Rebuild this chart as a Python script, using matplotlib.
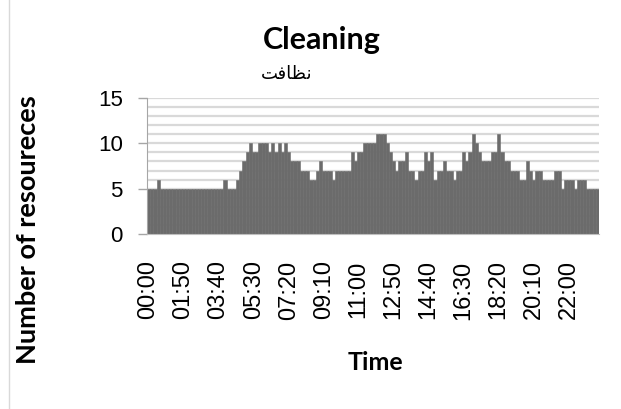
import matplotlib
matplotlib.use("Agg")
import matplotlib.pyplot as plt
from matplotlib.lines import Line2D

# Number of cleaning staff on duty, one value per 10-minute slot starting at 00:00
resources = [
    5, 5, 5, 6, 5, 5, 5, 5, 5, 5, 5, 5, 5, 5, 5, 5, 5, 5, 5, 5,
    5, 5, 5, 5, 6, 5, 5, 5, 6, 7, 8, 9, 10, 9, 9, 10, 10, 10, 9, 10,
    9, 10, 9, 10, 9, 8, 8, 8, 7, 7, 7, 6, 6, 7, 8, 7, 7, 7, 6, 7,
    7, 7, 7, 7, 9, 8, 9, 9, 10, 10, 10, 10, 11, 11, 11, 10, 9, 8, 7, 8,
    8, 9, 7, 7, 6, 7, 7, 9, 8, 9, 6, 7, 7, 8, 7, 7, 6, 7, 7, 9,
    8, 9, 11, 10, 9, 8, 8, 8, 9, 9, 11, 9, 8, 8, 7, 7, 7, 6, 6, 8,
    7, 6, 7, 7, 6, 6, 6, 6, 7, 7, 5, 6, 6, 6, 5, 6, 6, 6, 5, 5,
    5, 5,
]
times = [f"{(10 * i) // 60:02d}:{(10 * i) % 60:02d}" for i in range(len(resources))]
label_step = 11
y_ticks = [0, 5, 10, 15]

title = "Cleaning"
subtitle = "نظافت"
x_title = "Time"
y_title = "Number of resoureces"

# Arabic contextual forms (isolated, final, initial, medial) for the letters used
_FORMS = {
    "ن": ("\uFEE5", "\uFEE6", "\uFEE7", "\uFEE8"),
    "ظ": ("\uFEC5", "\uFEC6", "\uFEC7", "\uFEC8"),
    "ا": ("\uFE8D", "\uFE8E", None, None),
    "ف": ("\uFED1", "\uFED2", "\uFED3", "\uFED4"),
    "ت": ("\uFE95", "\uFE96", "\uFE97", "\uFE98"),
}


def shape_arabic(text):
    """Pick joined letter forms and lay the word out left-to-right."""
    out = []
    for i, ch in enumerate(text):
        forms = _FORMS.get(ch)
        if forms is None:
            out.append(ch)
            continue
        prev = text[i - 1] if i > 0 else None
        nxt = text[i + 1] if i + 1 < len(text) else None
        joins_prev = prev in _FORMS and _FORMS[prev][2] is not None
        joins_next = nxt in _FORMS and forms[2] is not None
        if joins_prev and joins_next:
            out.append(forms[3])
        elif joins_prev:
            out.append(forms[1])
        elif joins_next:
            out.append(forms[2])
        else:
            out.append(forms[0])
    return "".join(reversed(out))


W, H = 621, 409
fig = plt.figure(figsize=(W / 100, H / 100), dpi=100)
fig.patch.set_facecolor("white")

ax = fig.add_axes([147 / W, 1 - 234 / H, (599 - 147) / W, (234 - 98) / H])
x = list(range(len(resources)))
ax.bar(x, resources, width=1.0, color="#6b6b6b", edgecolor="#6b6b6b",
       linewidth=0.4, zorder=3)

ax.set_xlim(-0.5, len(resources) - 0.5)
ax.set_ylim(0, 15)

# light horizontal grid at every unit
for v in range(1, 16):
    ax.axhline(v, color="#d9d9d9", linewidth=1.6, zorder=1)

ax.set_yticks(y_ticks)
ax.set_yticklabels([str(v) for v in y_ticks], fontsize=16, family="Liberation Sans")
ax.tick_params(axis="y", length=6.5, width=1, color="#a6a6a6", pad=11)

ax.set_xticks(x[::label_step])
ax.set_xticklabels(times[::label_step], rotation=90, fontsize=17,
                   family="Liberation Sans")
ax.tick_params(axis="x", length=0, pad=19)

for side in ("top", "right"):
    ax.spines[side].set_visible(False)
ax.spines["left"].set_color("#a6a6a6")
ax.spines["bottom"].set_color("#bfbfbf")
ax.spines["left"].set_zorder(4)
ax.spines["bottom"].set_zorder(4)

fig.text(322 / W, 1 - 49 / H, title, ha="center", va="baseline",
         fontsize=22, fontweight="bold", family="Lato")
fig.text(287 / W, 1 - 79 / H, shape_arabic(subtitle), ha="center", va="baseline",
         fontsize=13, family="DejaVu Sans")
fig.text(375 / W, 1 - 362 / H, x_title, ha="center", va="center",
         fontsize=18, fontweight="bold", family="Lato")
fig.text(28 / W, 1 - 230 / H, y_title, ha="center", va="center", rotation=90,
         fontsize=19.5, fontweight="bold", family="Lato")

# chart area border on the left
fig.add_artist(Line2D([9 / W, 9 / W], [0, 1], color="#d9d9d9", linewidth=1,
                      transform=fig.transFigure))

fig.savefig("out.png", dpi=100)
